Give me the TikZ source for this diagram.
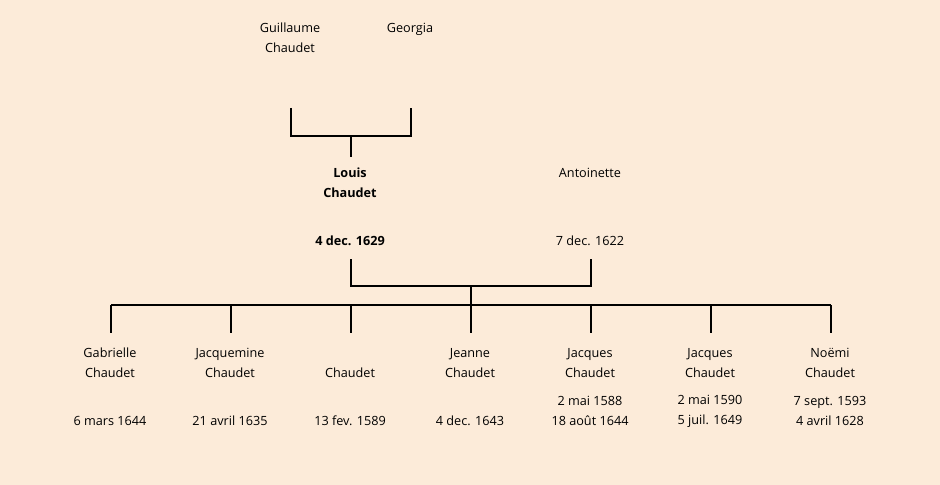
\documentclass[tikz,border=0pt]{standalone}
\usepackage{fontspec}
\setmainfont{Open Sans}
\definecolor{paper}{RGB}{252,235,217}
\tikzset{person/.style={align=center,inner sep=0pt,font=\fontsize{9.5}{15}\selectfont},
  link/.style={line width=1.5pt}}

\begin{document}
\begin{tikzpicture}[x=0.75pt,y=-0.75pt]
\fill[paper] (0,0) rectangle (940,485);
\useasboundingbox (0,0) rectangle (940,485);
\node[person] (guillaume) at (290,38) {Guillaume\\Chaudet};
\node[person] (georgia) at (410,29) {Georgia};
\node[person,font=\fontsize{9.5}{15}\selectfont\bfseries] (louis) at (350,183) {Louis\\Chaudet};
\node[person,font=\fontsize{9.5}{15}\selectfont\bfseries] (louisd) at (350,241) {4 dec. 1629};
\node[person] (antoinette) at (590,173) {Antoinette};
\node[person] (antoinetted) at (590,241) {7 dec. 1622};
\node[person] (c1) at (110,363) {Gabrielle\\Chaudet};
\node[person] (c2) at (230,363) {Jacquemine\\Chaudet};
\node[person] (c3) at (350,373) {Chaudet};
\node[person] (c4) at (470,363) {Jeanne\\Chaudet};
\node[person] (c5) at (590,363) {Jacques\\Chaudet};
\node[person] (c6) at (710,363) {Jacques\\Chaudet};
\node[person] (c7) at (830,363) {Noëmi\\Chaudet};
\node[person] (c1d) at (110,421) {6 mars 1644};
\node[person] (c2d) at (230,421) {21 avril 1635};
\node[person] (c3d) at (350,421) {13 fev. 1589};
\node[person] (c4d) at (470,421) {4 dec. 1643};
\node[person] (c5d) at (590,411) {2 mai 1588\\18 août 1644};
\node[person] (c6d) at (710,411) {2 mai 1590\\5 juil. 1649};
\node[person] (c7d) at (830,411) {7 sept. 1593\\4 avril 1628};
% parents of Louis
\coordinate (p1) at (291,108);
\coordinate (p2) at (411,108);
\coordinate (pm) at (351,136);
\coordinate (pc) at (351,157);
\draw[link] (p1) |- (pm) -| (p2);
\draw[link] (pm)--(pc);
% Louis and Antoinette
\coordinate (q1) at (351,259);
\coordinate (q2) at (591,259);
\coordinate (qm) at (471,286);
\coordinate (qc) at (471,305);
\draw[link] (q1) |- (qm) -| (q2);
\draw[link] (qm)--(qc);
% children
\coordinate (b1) at (111,305);
\coordinate (b2) at (231,305);
\coordinate (b3) at (351,305);
\coordinate (b4) at (471,305);
\coordinate (b5) at (591,305);
\coordinate (b6) at (711,305);
\coordinate (b7) at (831,305);
\coordinate (e1) at (111,333);
\coordinate (e2) at (231,333);
\coordinate (e3) at (351,333);
\coordinate (e4) at (471,333);
\coordinate (e5) at (591,333);
\coordinate (e6) at (711,333);
\coordinate (e7) at (831,333);
\draw[link] (b1)--(b7);
\draw[link] (b1)--(e1);
\draw[link] (b2)--(e2);
\draw[link] (b3)--(e3);
\draw[link] (b4)--(e4);
\draw[link] (b5)--(e5);
\draw[link] (b6)--(e6);
\draw[link] (b7)--(e7);
\end{tikzpicture}
\end{document}
